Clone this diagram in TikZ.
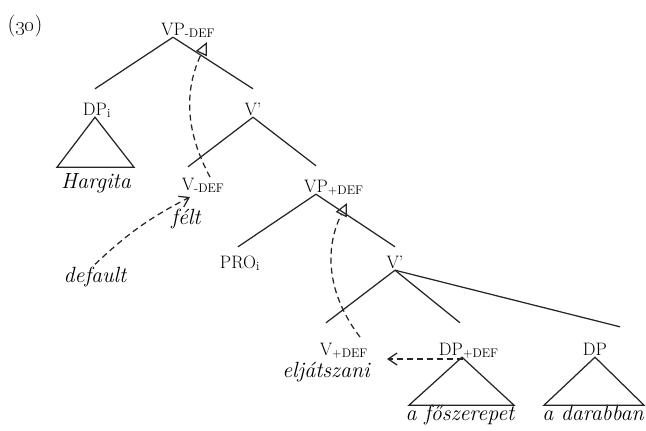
\documentclass[tikz,border=0pt]{standalone}
\usetikzlibrary{arrows.meta}

% subscript that takes no width, so a node stays centred on its category
\newcommand{\sbs}[1]{\rlap{\raisebox{-2pt}{\fontsize{12.5}{14}\selectfont #1}}}

\begin{document}
\begin{tikzpicture}[x=1pt, y=-1pt]
    \tikzstyle{every node}=[font=\fontsize{18}{21}\selectfont]
    \tikzset{
        cat/.style={anchor=base, inner xsep=0pt, inner ysep=2pt, text height=24pt, text depth=0pt},
        cat2/.style={cat, text height=30pt},
        word/.style={anchor=base, inner sep=2pt, font=\fontsize{22}{25}\selectfont\itshape},
        br/.style={line width=1.25pt, black!85},
        mv/.style={br, dash pattern=on 6pt off 4pt, -{Triangle[open, length=13pt, width=12pt]}},
        agr/.style={br, dash pattern=on 6pt off 4pt, -{Straight Barb[length=9pt, width=12pt]}}
        }

    \useasboundingbox (0,0) rectangle (646,431);

    %example number
    \node (ex) [anchor=base, font=\fontsize{22}{25}\selectfont] at (25,31) {(\oldstylenums{30})};

    %top VP
    \node (vp1) [cat] at (173,35) {VP\sbs{-DEF}};
    \node (dpi) [cat] at (95,115) {DP\sbs{i}};
    \node (vb1) [cat] at (253,115) {V'};

    %lower VP
    \node (v1) [cat, text height=21pt] at (188,190) {V\sbs{-DEF}};
    \node (vp2) [cat] at (316,192) {VP\sbs{+DEF}};
    \node (pro) [cat, text height=19pt] at (238,268) {PRO\sbs{i}};
    \node (vb2) [cat, text height=19pt] at (395,268) {V'};

    %bottom row
    \node (v2) [cat2] at (326,355) {V\sbs{+DEF}};
    \node (dp2) [cat2] at (451,355) {DP\sbs{+DEF}};
    \node (dp3) [cat2] at (595,355) {DP};

    %words
    \node (hargita) [word] at (96,188) {Hargita};
    \node (felt) [word] at (186,224) {félt};
    \node (dflt) [word] at (95,282) {default};
    \node (eljatszani) [word] at (326,377) {eljátszani};
    \node (foszerepet) [word] at (460,420) {a főszerepet};
    \node (darabban) [word] at (593,420) {a darabban};

    %branches
    \draw[br] (vp1.south) -- (dpi.north);
    \draw[br] (vp1.south) -- (vb1.north);
    \draw[br] (vb1.south) -- (v1.north);
    \draw[br] (vb1.south) -- (vp2.north);
    \draw[br] (vp2.south) -- (pro.north);
    \draw[br] (vp2.south) -- (vb2.north);
    \draw[br] (vb2.south) -- (v2.north);
    \draw[br] (vb2.south) -- ([xshift=9pt]dp2.north);
    \draw[br] (vb2.south) -- ([xshift=25pt, yshift=-4pt]dp3.north);

    %triangles
    \draw[br] (dpi.south) -- ++(-38,50) -- ++(77,0) -- cycle;
    \draw[br] ([xshift=11pt]dp2.south) -- ++(-53,48) -- ++(105,0) -- cycle;
    \draw[br] (dp3.south) -- ++(-51,48) -- ++(100,0) -- cycle;

    %movement
    \coordinate (m1s) at (210,177);
    \coordinate (m1e) at (207,42);
    \coordinate (m2s) at (360,337);
    \coordinate (m2e) at (347,203);
    \draw[mv] (m1s) to[bend left=27] (m1e);
    \draw[mv] (m2s) to[bend left=32] (m2e);

    %agreement
    \draw[agr] (dflt.north) to[bend left=8] ([xshift=2pt, yshift=-7pt]v1.base);
    \draw[agr] ([xshift=12pt, yshift=-4pt]dp2.base) -- ([xshift=61pt, yshift=-4pt]v2.base);
\end{tikzpicture}
\end{document}
